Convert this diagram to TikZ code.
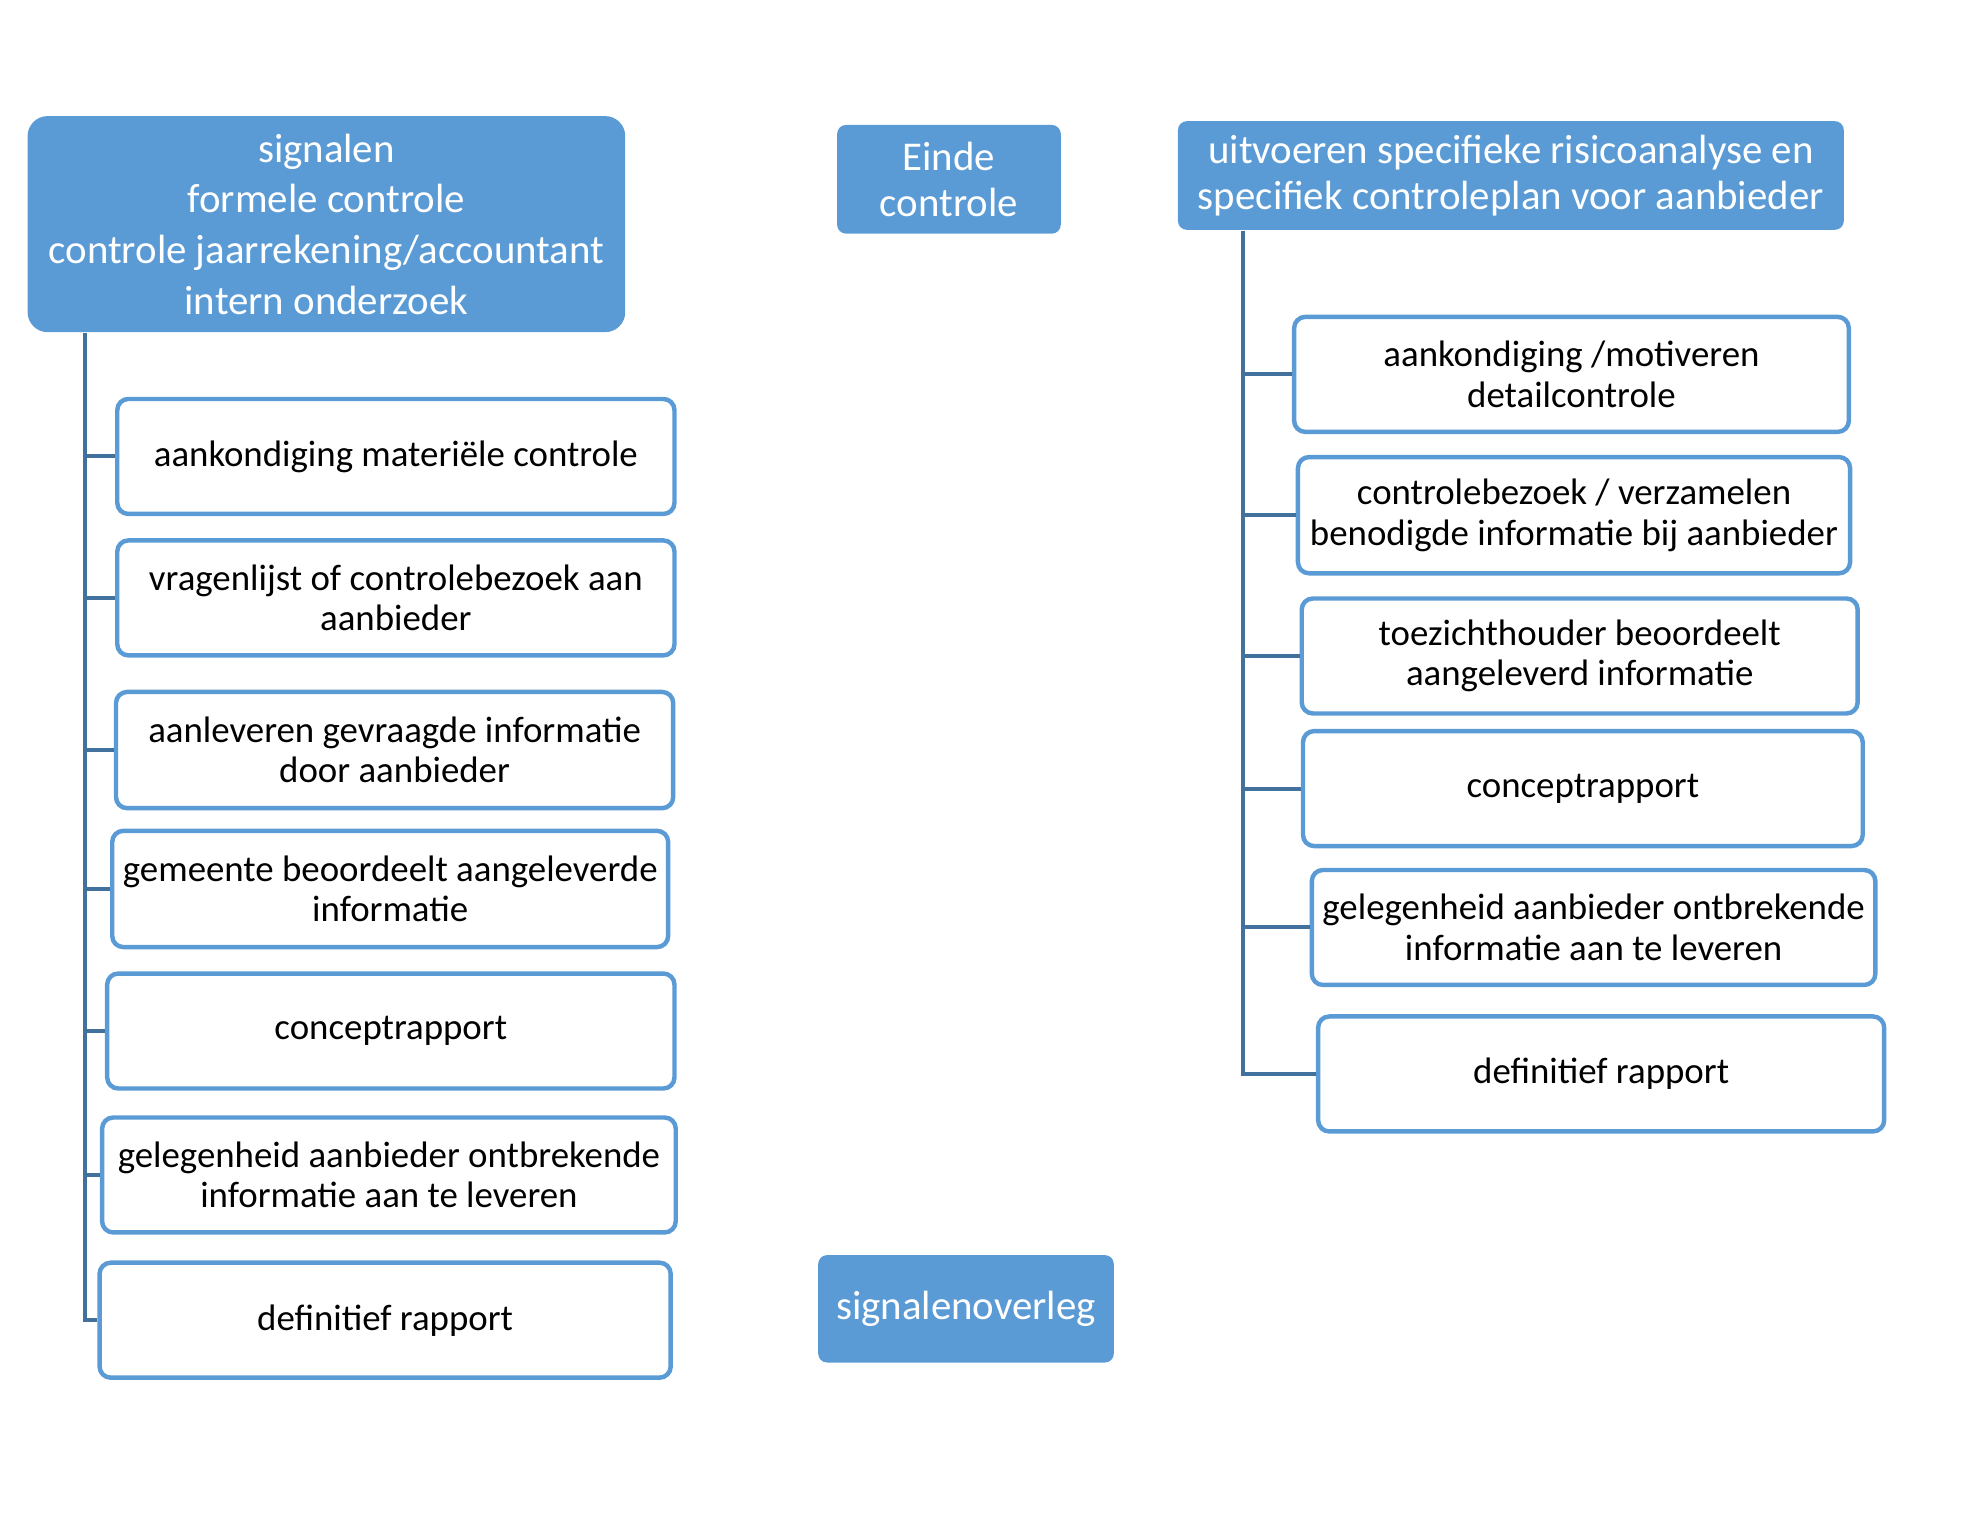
\documentclass[tikz,border=0pt]{standalone}
\usepackage{fontspec}
\setmainfont{Carlito}
\usepackage{tikz}
\usetikzlibrary{positioning}
\definecolor{accent}{HTML}{5B9BD5}
\definecolor{linkblue}{HTML}{41719C}

\begin{document}
\begin{tikzpicture}[x=0.01cm, y=-0.01cm,
  headbox/.style={rectangle, fill=accent, text=white, rounded corners=2pt, align=center,
    font=\fontsize{9.2}{10.4}\selectfont, inner sep=0pt},
  stepbox/.style={rectangle, draw=accent, line width=1pt, fill=white, rounded corners=2.5pt,
    align=center, font=\fontsize{8.3}{9.1}\selectfont, inner sep=0pt, minimum height=0.91cm},
  trunk/.style={draw=linkblue, line width=0.9pt}]

  % page frame
  \useasboundingbox (0,0) rectangle (1568,1207);

  % head boxes
  \node[headbox, minimum width=4.73cm, minimum height=1.71cm, rounded corners=4.5pt,
    font=\fontsize{9.2}{11.4}\selectfont] (lroot) at (258.5,177.5)
    {signalen\\formele controle\\controle jaarrekening/accountant\\intern onderzoek};
  \node[headbox, minimum width=1.77cm, minimum height=0.86cm] (einde) at (751.5,142)
    {Einde\\controle};
  \node[headbox, minimum width=5.27cm, minimum height=0.86cm] (rroot) at (1196.5,139)
    {uitvoeren specifieke risicoanalyse en\\specifiek controleplan voor aanbieder};
  \node[headbox, minimum width=2.34cm, minimum height=0.85cm] (overleg) at (765,1036.5)
    {signalenoverleg};

  % left column
  \node[stepbox, minimum width=4.41cm] (L1) at (313.5,361.5) {aankondiging materiële controle};
  \node[stepbox, minimum width=4.41cm] (L2) at (313.5,473.5) {vragenlijst of controlebezoek aan\\aanbieder};
  \node[stepbox, minimum width=4.41cm, minimum height=0.92cm] (L3) at (312.5,594) {aanleveren gevraagde informatie\\door aanbieder};
  \node[stepbox, minimum width=4.40cm, minimum height=0.92cm] (L4) at (309,704) {gemeente beoordeelt aangeleverde\\informatie};
  \node[stepbox, minimum width=4.49cm] (L5) at (309.5,816.5) {conceptrapport};
  \node[stepbox, minimum width=4.54cm] (L6) at (308,930.5) {gelegenheid aanbieder ontbrekende\\informatie aan te leveren};
  \node[stepbox, minimum width=4.52cm] (L7) at (305,1045.5) {definitief rapport};

  % right column
  \node[stepbox, minimum width=4.39cm] (R1) at (1244.5,296.5) {aankondiging /motiveren\\detailcontrole};
  \node[stepbox, minimum width=4.37cm, minimum height=0.92cm] (R2) at (1246.5,408) {controlebezoek / verzamelen\\benodigde informatie bij aanbieder};
  \node[stepbox, minimum width=4.40cm] (R3) at (1251,519.5) {toezichthouder beoordeelt\\aangeleverd informatie};
  \node[stepbox, minimum width=4.43cm] (R4) at (1253.5,624.5) {conceptrapport};
  \node[stepbox, minimum width=4.46cm] (R5) at (1262,734.5) {gelegenheid aanbieder ontbrekende\\informatie aan te leveren};
  \node[stepbox, minimum width=4.48cm] (R6) at (1268,850.5) {definitief rapport};

  % trunks and branches
  \coordinate (LT) at (lroot.south -| 67,0);
  \coordinate (RT) at (rroot.south -| 984,0);
  \foreach \n in {L1,L2,L3,L4,L5,L6,L7}
    \draw[trunk] (LT) |- (\n.west);
  \foreach \n in {R1,R2,R3,R4,R5,R6}
    \draw[trunk] (RT) |- (\n.west);
\end{tikzpicture}
\end{document}
